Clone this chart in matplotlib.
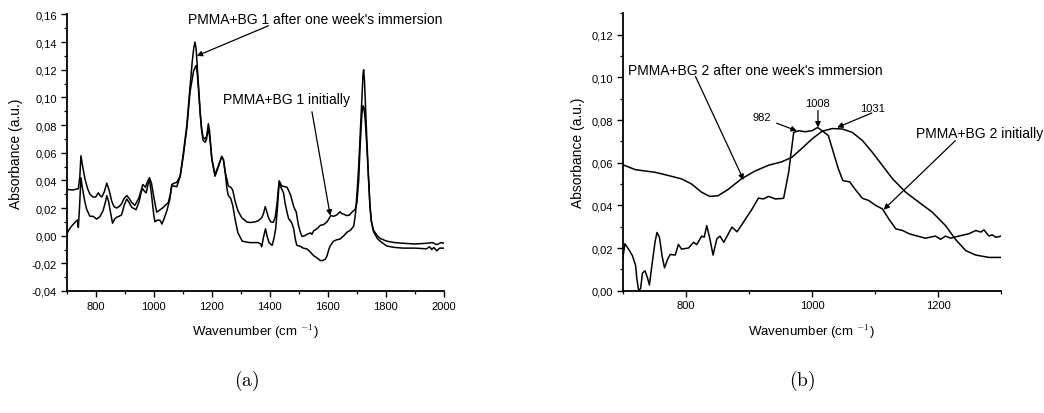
import matplotlib
matplotlib.use("Agg")
import matplotlib.pyplot as plt
from matplotlib.ticker import MultipleLocator, FuncFormatter

plt.rcParams['font.family'] = ['Liberation Sans', 'DejaVu Sans']
plt.rcParams['mathtext.fontset'] = 'cm'

# ---------------- Panel (a) data ----------------
a_init_x = [700, 720, 740, 745, 749, 755, 763, 772, 780, 790, 800, 809, 815, 821, 830, 838, 846, 855,
            863, 872, 880, 889, 898, 907, 915, 924, 935, 948, 957, 962, 967, 971, 978, 985, 992, 1000,
            1010, 1030, 1050, 1057, 1062, 1070, 1079, 1091, 1102, 1114, 1125, 1137, 1143, 1146, 1150,
            1154, 1160, 1165, 1170, 1177, 1182, 1186, 1189, 1193, 1200, 1211, 1223, 1234, 1240, 1246,
            1257, 1265, 1272, 1280, 1290, 1303, 1320, 1332, 1350, 1361, 1372, 1378, 1384, 1390, 1395,
            1403, 1412, 1418, 1424, 1432, 1441, 1450, 1459, 1466, 1472, 1482, 1491, 1498, 1505, 1511,
            1520, 1528, 1540, 1545, 1551, 1555, 1562, 1574, 1585, 1597, 1610, 1620, 1630, 1642, 1647,
            1654, 1665, 1675, 1682, 1694, 1700, 1706, 1711, 1717, 1721, 1724, 1728, 1734, 1740, 1745,
            1750, 1757, 1770, 1780, 1803, 1830, 1860, 1900, 1940, 1960, 1975, 1990, 2000]
a_init_y = [0.0335, 0.033, 0.034, 0.042, 0.0578, 0.050, 0.041, 0.034, 0.030, 0.028, 0.028, 0.031, 0.029,
            0.028, 0.032, 0.038, 0.033, 0.025, 0.021, 0.020, 0.021, 0.023, 0.027, 0.029, 0.027, 0.024,
            0.022, 0.027, 0.033, 0.037, 0.036, 0.035, 0.039, 0.042, 0.038, 0.028, 0.017, 0.020, 0.024,
            0.030, 0.037, 0.038, 0.0385, 0.043, 0.058, 0.078, 0.104, 0.119, 0.122, 0.123, 0.117, 0.106,
            0.088, 0.077, 0.071, 0.070, 0.072, 0.075, 0.076, 0.071, 0.056, 0.044, 0.051, 0.057, 0.055,
            0.046, 0.036, 0.035, 0.033, 0.025, 0.018, 0.013, 0.010, 0.0095, 0.010, 0.011, 0.013, 0.016,
            0.021, 0.017, 0.013, 0.010, 0.0097, 0.013, 0.022, 0.0397, 0.036, 0.0355, 0.035, 0.032, 0.029,
            0.021, 0.017, 0.008, 0.0025, -0.0006, 0.000, 0.001, 0.002, 0.001, 0.0036, 0.004, 0.005,
            0.0075, 0.008, 0.010, 0.0145, 0.014, 0.015, 0.0173, 0.016, 0.0156, 0.0145, 0.015, 0.0169,
            0.019, 0.024, 0.040, 0.065, 0.088, 0.094, 0.093, 0.085, 0.065, 0.040, 0.020, 0.010, 0.004,
            0.000, -0.002, -0.004, -0.005, -0.0055, -0.006, -0.0055, -0.005, -0.0065, -0.005, -0.0055]

a_after_x = [700, 702, 710, 717, 729, 737, 740, 744, 749, 753, 757, 763, 769, 780, 791, 803, 814, 825,
             833, 838, 844, 849, 858, 865, 872, 880, 889, 898, 907, 915, 924, 939, 950, 957, 962, 968,
             974, 980, 985, 992, 1000, 1004, 1010, 1016, 1022, 1028, 1035, 1045, 1055, 1062, 1070, 1079,
             1091, 1102, 1114, 1125, 1133, 1138, 1142, 1146, 1150, 1154, 1160, 1165, 1170, 1177, 1182,
             1185, 1188, 1192, 1200, 1211, 1223, 1234, 1240, 1246, 1252, 1257, 1265, 1272, 1280, 1290,
             1305, 1330, 1345, 1360, 1368, 1372, 1378, 1385, 1390, 1397, 1408, 1414, 1420, 1426, 1432,
             1440, 1447, 1452, 1459, 1465, 1470, 1476, 1482, 1488, 1493, 1505, 1515, 1528, 1540, 1551,
             1562, 1574, 1582, 1591, 1597, 1603, 1608, 1619, 1630, 1642, 1655, 1665, 1678, 1689, 1695,
             1700, 1706, 1711, 1717, 1721, 1723, 1726, 1730, 1734, 1740, 1745, 1750, 1757, 1770, 1780,
             1803, 1830, 1860, 1900, 1940, 1950, 1958, 1965, 1975, 1985, 2000]
a_after_y = [-0.005, 0.002, 0.005, 0.007, 0.0097, 0.0115, 0.006, 0.020, 0.042, 0.036, 0.031, 0.024,
             0.019, 0.014, 0.014, 0.012, 0.0137, 0.018, 0.024, 0.029, 0.025, 0.019, 0.009, 0.012, 0.0133,
             0.014, 0.015, 0.022, 0.0265, 0.024, 0.0205, 0.0188, 0.025, 0.032, 0.034, 0.032, 0.031,
             0.037, 0.041, 0.030, 0.015, 0.010, 0.011, 0.0113, 0.011, 0.0084, 0.012, 0.018, 0.026, 0.036,
             0.036, 0.0353, 0.043, 0.060, 0.080, 0.108, 0.127, 0.136, 0.140, 0.135, 0.122, 0.108, 0.089,
             0.076, 0.069, 0.0675, 0.070, 0.076, 0.081, 0.076, 0.055, 0.043, 0.050, 0.0575, 0.055,
             0.046, 0.034, 0.029, 0.027, 0.022, 0.012, 0.002, -0.004, -0.005, -0.005, -0.005, -0.006,
             -0.008, -0.001, 0.005, 0.000, -0.005, -0.007, -0.002, 0.005, 0.020, 0.0386, 0.034, 0.031,
             0.024, 0.017, 0.012, 0.011, 0.009, 0.005, -0.003, -0.007, -0.0077, -0.009, -0.0096, -0.012,
             -0.0145, -0.016, -0.018, -0.018, -0.017, -0.0145, -0.010, -0.0073, -0.004, -0.003,
             -0.0024, 0.000, 0.0024, 0.004, 0.007, 0.016, 0.030, 0.050, 0.072, 0.100, 0.117, 0.120,
             0.112, 0.090, 0.070, 0.042, 0.022, 0.010, 0.003, -0.002, -0.004, -0.0075, -0.0085, -0.009,
             -0.009, -0.0095, -0.008, -0.010, -0.0085, -0.011, -0.009, -0.009]

# ---------------- Panel (b) data ----------------
b_after_x = [700, 720, 751, 772, 793, 809, 825, 838, 851, 867, 888, 909, 931, 952, 968, 984, 1000, 1016,
             1032, 1048, 1064, 1080, 1096, 1112, 1128, 1149, 1170, 1191, 1212, 1228, 1244, 1260, 1281, 1300]
b_after_y = [0.059, 0.0567, 0.0555, 0.054, 0.0524, 0.050, 0.0461, 0.0442, 0.0445, 0.0475, 0.0524, 0.056,
             0.0588, 0.0604, 0.0625, 0.0667, 0.0711, 0.0747, 0.076, 0.0758, 0.0742, 0.0704, 0.0648,
             0.0586, 0.0524, 0.0461, 0.0414, 0.0368, 0.0305, 0.024, 0.0188, 0.0167, 0.0156, 0.0156]

b_init_x = [700, 703, 710, 715, 720, 722, 725, 728, 731, 735, 739, 742, 746, 751, 754, 758, 762, 766,
            771, 775, 783, 788, 793, 804, 812, 817, 825, 829, 833, 838, 843, 849, 854, 860, 873, 881,
            891, 905, 915, 923, 931, 942, 955, 963, 971, 979, 989, 1000, 1009, 1016, 1026, 1034, 1042,
            1049, 1060, 1068, 1080, 1090, 1101, 1112, 1122, 1133, 1144, 1154, 1165, 1180, 1196, 1204,
            1212, 1220, 1233, 1249, 1260, 1268, 1273, 1281, 1286, 1292, 1300]
b_init_y = [0.0155, 0.022, 0.019, 0.0164, 0.012, 0.0057, 0.000, 0.001, 0.0083, 0.0093, 0.006, 0.0027,
            0.012, 0.023, 0.0273, 0.025, 0.0164, 0.0107, 0.0148, 0.017, 0.0167, 0.0217, 0.0195, 0.020,
            0.0227, 0.0216, 0.0256, 0.0251, 0.0305, 0.0243, 0.0167, 0.0243, 0.0256, 0.0227, 0.0298,
            0.0276, 0.032, 0.0383, 0.0434, 0.043, 0.0442, 0.043, 0.0433, 0.0555, 0.0742, 0.075, 0.0745,
            0.075, 0.0765, 0.075, 0.0727, 0.0648, 0.057, 0.0516, 0.051, 0.0477, 0.0433, 0.0423, 0.040,
            0.0383, 0.0336, 0.029, 0.0282, 0.0267, 0.0258, 0.0246, 0.0256, 0.0241, 0.0256, 0.0246,
            0.0256, 0.0267, 0.0282, 0.0275, 0.0285, 0.0256, 0.0262, 0.025, 0.0256]

a_xticks = [800, 1000, 1200, 1400, 1600, 1800, 2000]
b_xticks = [800, 1000, 1200]

fig = plt.figure(figsize=(10.44, 4.14), dpi=100)
axa = fig.add_axes([0.0639, 0.2947, 0.3614, 0.668])
axb = fig.add_axes([0.5967, 0.2954, 0.3621, 0.670])

comma = FuncFormatter(lambda v, p: f"{v:.2f}".replace('.', ',').replace('-0,00', '0,00'))

for ax in (axa, axb):
    ax.spines['top'].set_visible(False)
    ax.spines['right'].set_visible(False)
    ax.spines['left'].set_linewidth(1.3)
    ax.spines['bottom'].set_linewidth(1.3)
    ax.tick_params(which='major', direction='out', length=4.5, width=1.0, labelsize=8, pad=2.5)
    ax.tick_params(which='minor', direction='out', length=2.5, width=0.9)
    ax.yaxis.set_major_locator(MultipleLocator(0.02))
    ax.yaxis.set_minor_locator(MultipleLocator(0.01))
    ax.xaxis.set_minor_locator(MultipleLocator(100))
    ax.yaxis.set_major_formatter(comma)
    ax.set_xlabel('Wavenumber (cm $^{\\mathsf{-1}}$)', fontsize=9.5, labelpad=8)

arrow = dict(arrowstyle='-|>', color='black', lw=0.9, mutation_scale=8, shrinkA=0, shrinkB=0)


def label_arrow(ax, text, tx, ty, ha, ax0, ay0, ax1, ay1, size):
    ax.text(tx, ty, text, fontsize=size, ha=ha, va='center', clip_on=False)
    ax.annotate('', xy=(ax1, ay1), xytext=(ax0, ay0), arrowprops=arrow, annotation_clip=False)


# Panel (a)
axa.plot(a_init_x, a_init_y, color='black', lw=1.1)
axa.plot(a_after_x, a_after_y, color='black', lw=1.1)
axa.set_xlim(700, 2000)
axa.set_ylim(-0.04, 0.16)
axa.set_xticks(a_xticks)
axa.set_ylabel('Absorbance (a.u.)', fontsize=10, labelpad=6)
label_arrow(axa, "PMMA+BG 1 after one week's immersion", 1119, 0.1566, 'left',
            1395, 0.1518, 1148, 0.130, 10)
label_arrow(axa, "PMMA+BG 1 initially", 1238, 0.0988, 'left',
            1545, 0.0896, 1608, 0.0145, 10)

# Panel (b)
axb.plot(b_after_x, b_after_y, color='black', lw=1.1)
axb.plot(b_init_x, b_init_y, color='black', lw=1.1)
axb.set_xlim(700, 1300)
axb.set_ylim(0.0, 0.13)
axb.set_xticks(b_xticks)
axb.set_ylabel('Absorbance (a.u.)', fontsize=10, labelpad=5)
label_arrow(axb, "PMMA+BG 2 after one week's immersion", 708, 0.1036, 'left',
            815, 0.1005, 891.5, 0.0519, 10)
label_arrow(axb, "982", 920.6, 0.0813, 'center', 944, 0.0785, 976, 0.0749, 8)
label_arrow(axb, "1008", 1009.5, 0.088, 'center', 1009.5, 0.0844, 1009.5, 0.0765, 8)
label_arrow(axb, "1031", 1096, 0.0855, 'center', 1095, 0.0833, 1040, 0.0765, 8)
label_arrow(axb, "PMMA+BG 2 initially", 1165.6, 0.0738, 'left',
            1227.5, 0.0703, 1113.8, 0.038, 10)

fig.text(0.2366, 0.08, r'$\mathrm{(a)}$', ha='center', va='center', fontsize=14)
fig.text(0.768, 0.08, r'$\mathrm{(b)}$', ha='center', va='center', fontsize=14)

fig.savefig('out.png', dpi=100)
